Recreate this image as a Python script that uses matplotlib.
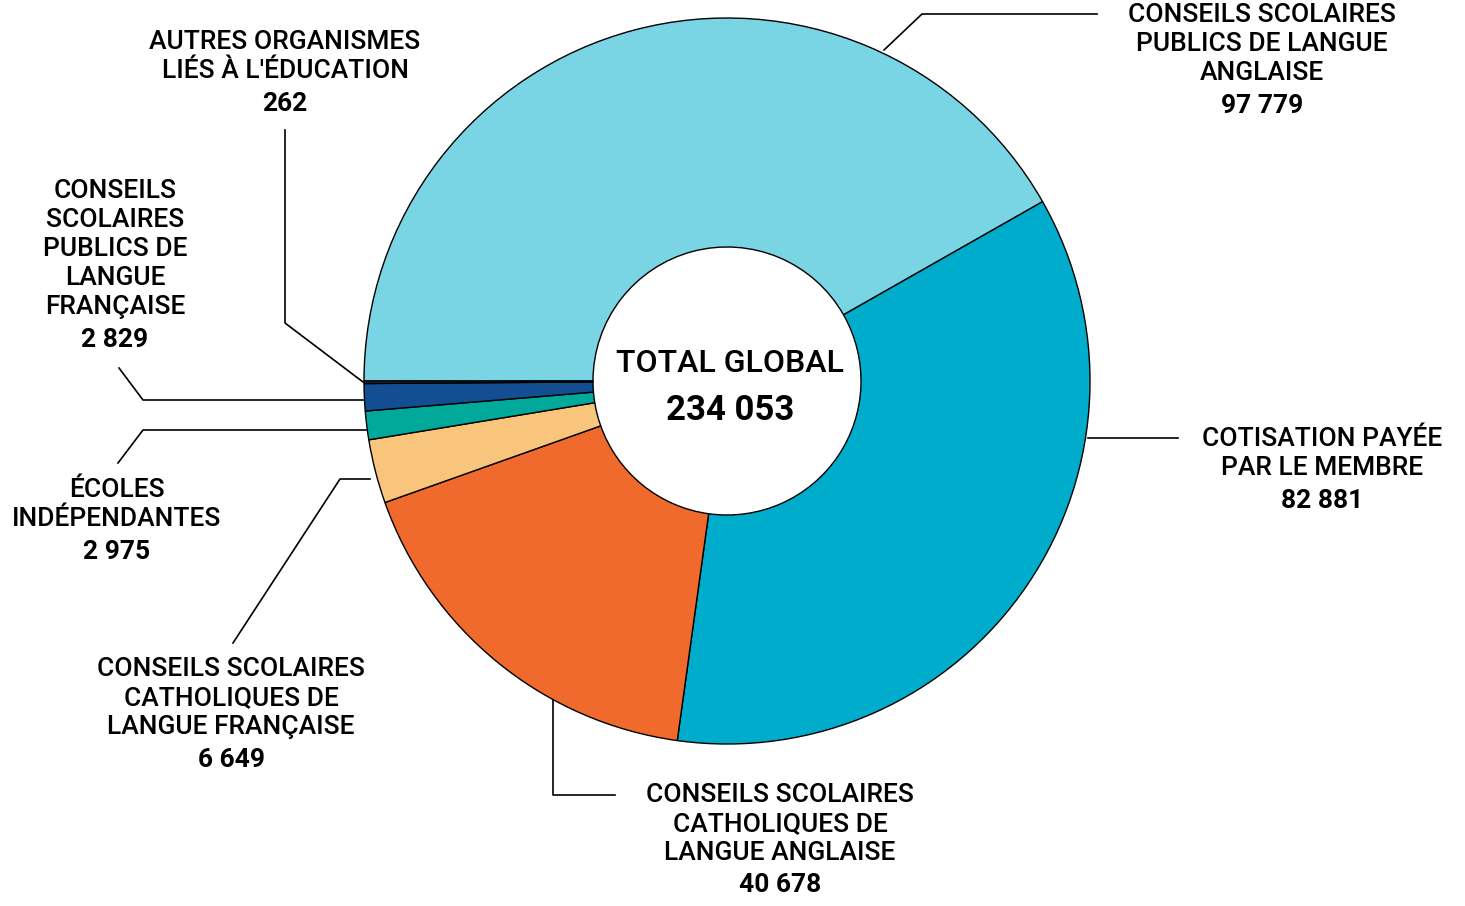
import matplotlib
matplotlib.use("Agg")
import matplotlib.pyplot as plt

categories = ["CONSEILS SCOLAIRES\nPUBLICS DE LANGUE\nANGLAISE",
              "COTISATION PAYÉE\nPAR LE MEMBRE",
              "CONSEILS SCOLAIRES\nCATHOLIQUES DE\nLANGUE ANGLAISE",
              "CONSEILS SCOLAIRES\nCATHOLIQUES DE\nLANGUE FRANÇAISE",
              "ÉCOLES\nINDÉPENDANTES",
              "CONSEILS\nSCOLAIRES\nPUBLICS DE\nLANGUE\nFRANÇAISE",
              "AUTRES ORGANISMES\nLIÉS À L'ÉDUCATION"]
values = [97779, 82881, 40678, 6649, 2975, 2829, 262]
value_labels = ["97 779", "82 881", "40 678", "6 649", "2 975", "2 829", "262"]
total_label = "234 053"
colors = ["#79D4E3", "#00ACCB", "#F06A2D", "#F9C47C", "#00A99A", "#134E93", "#1B2A4A"]

W, H = 1465, 906
fig = plt.figure(figsize=(W/100, H/100), dpi=100)
ax = fig.add_axes([0, 0, 1, 1])
ax.set_xlim(0, W); ax.set_ylim(0, H); ax.set_aspect("equal"); ax.axis("off")

cx, cy, R = 727, H-381, 363
ax.pie(values, colors=colors, startangle=180, counterclock=False, center=(cx, cy),
       radius=R, wedgeprops=dict(width=R-134, edgecolor="black", linewidth=1), frame=True)
ax.set_xlim(0, W); ax.set_ylim(0, H); ax.axis("off")

F = "Roboto"
def Y(p): return H - p
# (leader polyline in pixel coords, text center x, first line y, number y)
layout = [
    ([(884, 50), (922, 14), (1097, 14)], 1262, 15, 106),
    ([(1088, 438), (1178, 438)], 1322, 439, 501),
    ([(553, 700), (553, 795), (615, 795)], 780, 795, 885),
    ([(370, 479), (340, 479), (233, 643)], 231, 669, 760),
    ([(366, 430), (143, 430), (118, 463)], 117, 490, 552),
    ([(363, 400), (143, 400), (119, 368)], 115, 191, 340),
    ([(363, 382), (285, 323), (285, 130)], 285, 42, 104),
]
for cat, vl, (pts, tx, ty, ny) in zip(categories, value_labels, layout):
    ax.plot([p[0] for p in pts], [Y(p[1]) for p in pts], color="black", lw=1.2)
    for i, line in enumerate(cat.split("\n")):
        ax.text(tx, Y(ty + 29*i), line, ha="center", va="center", fontsize=19,
                family=F, fontweight="medium")
    ax.text(tx, Y(ny), vl, ha="center", va="center", fontsize=19, family=F, fontweight="bold")

ax.text(730, Y(364), "TOTAL GLOBAL", ha="center", va="center", fontsize=23, family=F, fontweight="medium")
ax.text(730, Y(411), total_label, ha="center", va="center", fontsize=25, family=F, fontweight="bold")

fig.savefig("out.png", dpi=100, facecolor="white")
